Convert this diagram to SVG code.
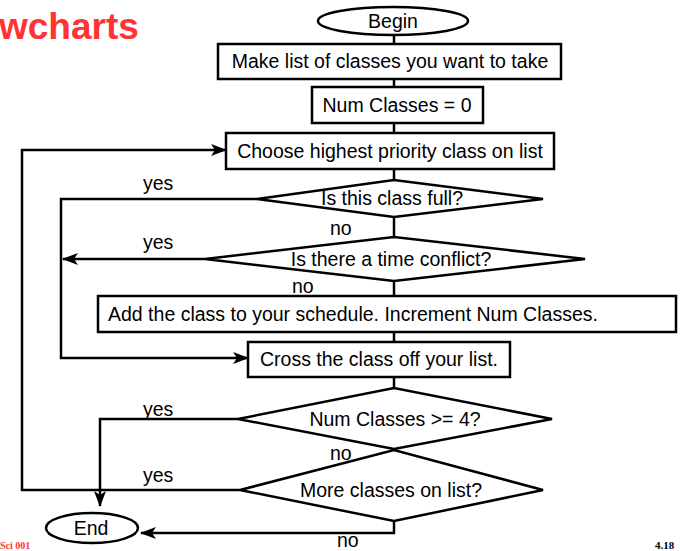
<svg xmlns="http://www.w3.org/2000/svg" width="680" height="551" viewBox="0 0 680 551">
<defs>
<style>
.box{fill:#fff;stroke:#000;stroke-width:2.5}
.ln{fill:none;stroke:#000;stroke-width:2.5}
.t{font-family:"Liberation Sans",Arial,sans-serif;font-size:19.5px;fill:#000}
.c{text-anchor:middle}
.arr{marker-end:url(#ah)}
</style>
<marker id="ah" markerUnits="userSpaceOnUse" markerWidth="16" markerHeight="12" viewBox="0 0 16 12" refX="15" refY="6" orient="auto">
<path d="M0,0 L16,6 L0,12 L4,6 Z" fill="#000"/>
</marker>
</defs>
<rect width="680" height="551" fill="#fff"/>
<text x="-1" y="39" font-family="Liberation Sans,Arial,sans-serif" font-weight="bold" font-size="37" fill="#FF3333">wcharts</text>
<text x="0" y="549" font-family="Liberation Serif,Times New Roman,serif" font-weight="bold" font-size="10" fill="#FF3333">Sci 001</text>
<text x="655" y="549" font-family="Liberation Serif,Times New Roman,serif" font-weight="bold" font-size="11" fill="#000">4.18</text>

<g id="connectors">
<line class="ln" x1="394" y1="35" x2="394" y2="44"/>
<line class="ln" x1="394" y1="79" x2="394" y2="87"/>
<line class="ln" x1="394" y1="123" x2="394" y2="133"/>
<line class="ln" x1="394" y1="169" x2="394" y2="180"/>
<line class="ln" x1="394" y1="217" x2="394" y2="237"/>
<line class="ln" x1="394" y1="281" x2="394" y2="296"/>
<line class="ln" x1="394" y1="332" x2="394" y2="342"/>
<line class="ln" x1="394" y1="377" x2="394" y2="388"/>
<polyline class="ln arr" points="240,490 22,490 22,150 226,150"/>
<polyline class="ln arr" points="257,199 61,199 61,358 248,358"/>
<polyline class="ln arr" points="205,259 63,259"/>
<polyline class="ln arr" points="238,419 100,419 100,506"/>
<polyline class="ln arr" points="394,521 394,533 141,533"/>
<text class="t" x="143" y="190">yes</text>
<text class="t" x="143" y="249">yes</text>
<text class="t" x="143" y="416">yes</text>
<text class="t" x="143" y="482">yes</text>
<text class="t" x="330" y="235">no</text>
<text class="t" x="292" y="293">no</text>
<text class="t" x="330" y="460">no</text>
<text class="t" x="337" y="547">no</text>
</g>

<g id="begin">
<ellipse class="box" cx="393" cy="21" rx="75" ry="14"/>
<text class="t c" x="393" y="28">Begin</text>
</g>
<g id="make-list">
<rect class="box" x="218" y="44" width="343" height="35"/>
<text class="t c" x="390" y="68">Make list of classes you want to take</text>
</g>
<g id="num-classes">
<rect class="box" x="312" y="87" width="171" height="36"/>
<text class="t c" x="397" y="112">Num Classes = 0</text>
</g>
<g id="choose">
<rect class="box" x="226" y="133" width="328" height="36"/>
<text class="t c" x="390" y="158">Choose highest priority class on list</text>
</g>
<g id="is-full">
<polygon class="box" points="257,199 394,180 543,199 394,217"/>
<text class="t c" x="392" y="205">Is this class full?</text>
</g>
<g id="time-conflict">
<polygon class="box" points="205,259 394,237 585,259 394,281"/>
<text class="t c" x="391" y="266">Is there a time conflict?</text>
</g>
<g id="add-class">
<rect class="box" x="98" y="296" width="578" height="36"/>
<text class="t" x="108" y="321">Add the class to your schedule. Increment Num Classes.</text>
</g>
<g id="cross-off">
<rect class="box" x="248" y="342" width="262" height="35"/>
<text class="t c" x="379" y="366">Cross the class off your list.</text>
</g>
<g id="num-ge-4">
<polygon class="box" points="238,419 394,388 552,419 394,449"/>
<text class="t c" x="395" y="426">Num Classes &gt;= 4?</text>
</g>
<g id="more-classes">
<polygon class="box" points="240,490 394,450 543,490 394,521"/>
<text class="t c" x="391" y="497">More classes on list?</text>
</g>
<g id="end">
<ellipse class="box" cx="92" cy="528" rx="46" ry="15"/>
<text class="t c" x="91" y="535">End</text>
</g>
</svg>
